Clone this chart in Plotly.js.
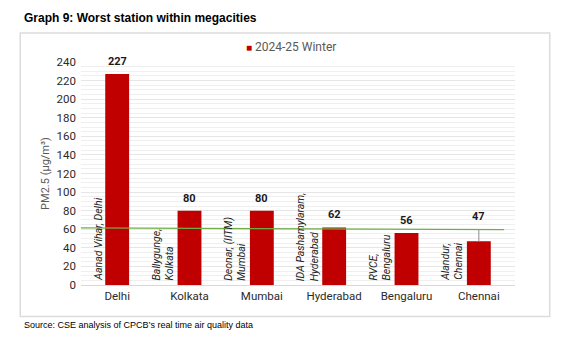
<!DOCTYPE html>
<html><head><meta charset="utf-8">
<script src="https://cdn.plot.ly/plotly-3.0.1.min.js"></script>
<style>html,body{margin:0;padding:0;background:#fff}#chart{width:562px;height:342px}</style>
</head><body><div id="chart"></div>
<script>
const cities = ["Delhi","Kolkata","Mumbai","Hyderabad","Bengaluru","Chennai"];
const pm25 = [227, 80, 80, 62, 56, 47];
const stations = ["Aanad Vihar, Delhi","Ballygunge,<br>Kolkata","Deonar, (IITM)<br>Mumbai","IDA Pashamylaram,<br>Hyderabad","RVCE,<br>Bengaluru","Alandur,<br>Chennai"];
const leaderUp = [0, 0, 0, 0, 0, 13];
const standardLine = [61.5, 59.5];
const seriesName = "2024-25 Winter";
const yTicks = [0,20,40,60,80,100,120,140,160,180,200,220,240];

const barColor = "#c00000";
const tickFont = {family: "Roboto, sans-serif", size: 11.5, color: "#2b2b2b"};

const trace = {
  type: "bar", x: cities, y: pm25, name: seriesName, showlegend: false,
  marker: {color: barColor}, width: 0.33,
  error_y: {type: "data", symmetric: false, array: leaderUp, arrayminus: leaderUp.map(()=>0), width: 0, thickness: 1, color: "#8c8c8c"}
};

const valueLabels = pm25.map((v, i) => ({
  x: cities[i], y: v + leaderUp[i], xref: "x", yref: "y", text: "<b>" + v + "</b>",
  showarrow: false, yanchor: "bottom", yshift: 4,
  font: {family: "Roboto, sans-serif", size: 11, color: "#1a1a1a"}
}));

const stationLabels = stations.map((s, i) => ({
  x: cities[i], y: 0, xref: "x", yref: "y", text: s, showarrow: false,
  textangle: -90, xanchor: "center", yanchor: "bottom", align: "left",
  xshift: i === 0 ? -19 : -27, yshift: 2,
  font: {family: "Roboto, sans-serif", size: 10.5, color: "#262626", style: "italic"}
}));

const legendLabel = {
  xref: "paper", yref: "paper", x: 0.376, y: 1.067, xanchor: "left", yanchor: "middle", showarrow: false,
  text: "<span style='color:" + barColor + ";font-size:10px'>■</span> " + seriesName,
  font: {family: "Roboto, sans-serif", size: 12, color: "#595959"}
};

const layout = {
  width: 562, height: 342,
  margin: {l: 81, r: 47, t: 62, b: 57},
  paper_bgcolor: "#fff", plot_bgcolor: "#fff",
  showlegend: false,
  bargap: 0.67,
  xaxis: {type: "category", tickfont: tickFont, showgrid: false, ticks: "", showline: true, linecolor: "#d9d9d9", linewidth: 1, range: [-0.5, 5.5]},
  yaxis: {range: [0, 240], tickvals: yTicks, tickfont: tickFont, showgrid: true, gridcolor: "#e6e6e6", zeroline: false,
    ticklabelstandoff: 4,
    minor: {dtick: 5, showgrid: true, gridcolor: "#efefef"},
    title: {text: "PM2.5 (µg/m³)", font: {family: "Roboto, sans-serif", size: 11, color: "#595959"}, standoff: 4}},
  shapes: [
    {type: "rect", xref: "paper", yref: "paper", x0: -0.14, x1: 1.08, y0: -0.141, y1: 1.13, line: {color: "#dcdcdc", width: 1.5}, layer: "below"},
    {type: "line", xref: "x", yref: "y", x0: -0.5, x1: 5.35, y0: standardLine[0], y1: standardLine[1], line: {color: "#70ad47", width: 1.2}}
  ],
  annotations: valueLabels.concat(stationLabels).concat([
    legendLabel,
    {xref: "paper", yref: "paper", x: -0.136, y: 1.155, xanchor: "left", yanchor: "bottom", showarrow: false,
     text: "<b>Graph 9: Worst station within megacities</b>", font: {family: "Liberation Sans, Arial, sans-serif", size: 12, color: "#000"}},
    {xref: "paper", yref: "paper", x: -0.136, y: -0.15, xanchor: "left", yanchor: "top", showarrow: false,
     text: "Source: CSE analysis of CPCB’s real time air quality data", font: {family: "Liberation Sans, Arial, sans-serif", size: 9, color: "#000"}}
  ])
};

Plotly.newPlot("chart", [trace], layout, {displayModeBar: false, staticPlot: true});
</script></body></html>
